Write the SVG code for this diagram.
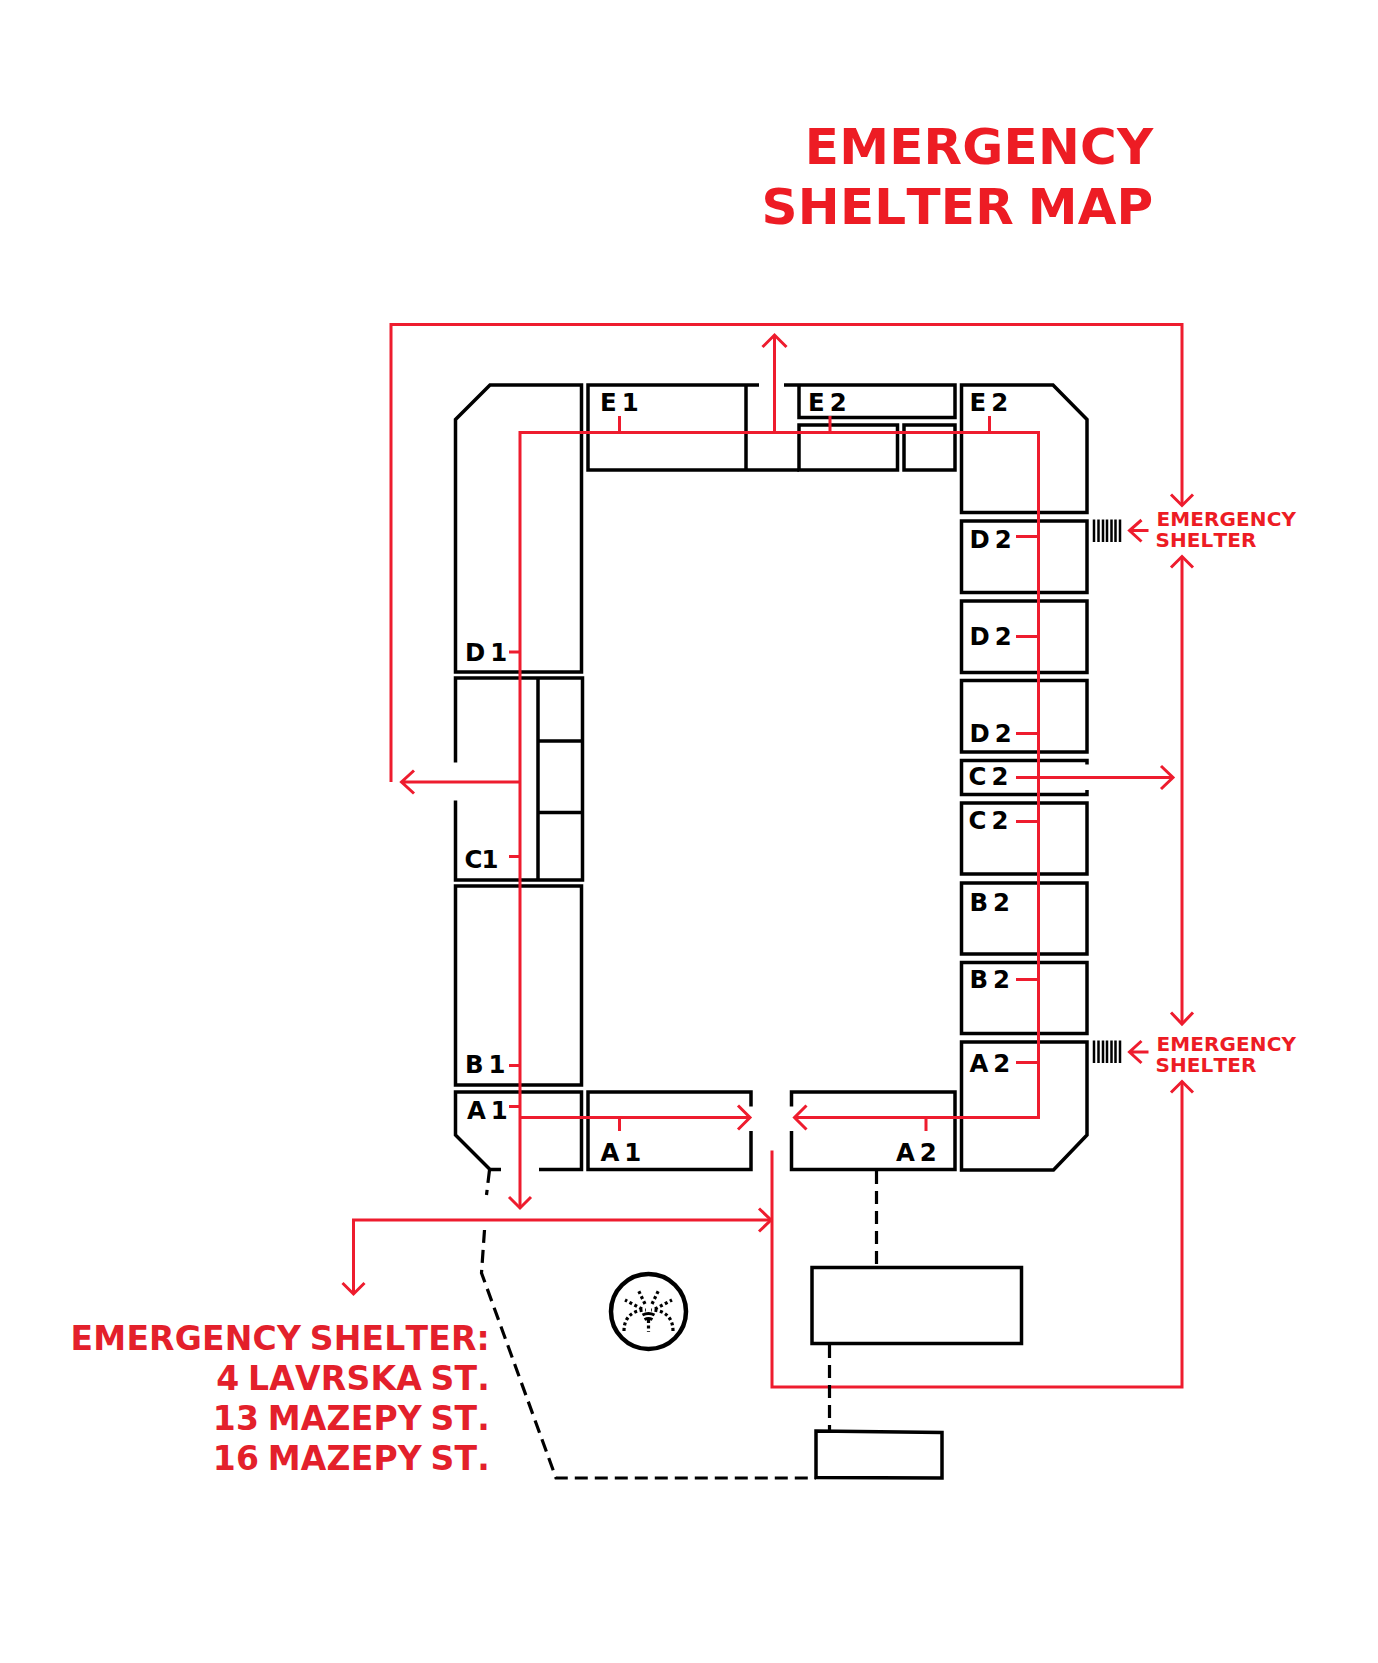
<svg xmlns="http://www.w3.org/2000/svg" width="1378" height="1663" viewBox="0 0 1378 1663">
<style>
.b{fill:none;stroke:#000;stroke-width:3.5}
.r{fill:none;stroke:#ee1c2e;stroke-width:3}
.d{fill:none;stroke:#000;stroke-width:3.2;stroke-dasharray:13 7}
.i{fill:none;stroke:#000;stroke-width:3.2;stroke-dasharray:3 2.6}
text{font-family:"DejaVu Sans",sans-serif;font-weight:700;font-kerning:none}
.l{font-size:24.4px;fill:#000;word-spacing:-3.5px}
.t{font-size:50px;fill:#ed1c24;text-anchor:end;word-spacing:-4px;letter-spacing:.25px}
.s{font-size:20px;fill:#ed1c24;letter-spacing:.1px}
.a{font-size:33px;fill:#e3202b;text-anchor:end;word-spacing:-3px;letter-spacing:.2px}
</style>
<rect width="1378" height="1663" fill="#fff"/>
<g id="title"><text class="t" x="1153.5" y="163.5">EMERGENCY</text><text class="t" x="1153.5" y="224">SHELTER MAP</text></g>
<g id="node-d1"><path class="b" d="M455.500 672V419.500L490 385H581.500V672Z"/><text class="l" x="465" y="660.500">D 1</text></g>
<g id="node-c1"><path class="b" d="M455.500 762.500V678H582.500V880H455.500V800.500M538 678V880M538 741H582.500M538 812.500H582.500"/><text class="l" x="464.500" y="867.500" style="letter-spacing:-1px">C1</text></g>
<g id="node-b1"><rect class="b" x="455.500" y="886" width="126" height="199"/><text class="l" x="465" y="1073">B 1</text></g>
<g id="node-a1-l"><path class="b" d="M501 1169.500H490L455.500 1135V1092H581.500V1169.500H539"/><text class="l" x="467" y="1118.500">A 1</text></g>
<g id="node-a1"><path class="b" d="M751 1106.500V1092H588V1169.500H751V1131"/><text class="l" x="600.500" y="1160.500">A 1</text></g>
<g id="node-a2"><path class="b" d="M791.500 1106.500V1092H955V1169.500H791.500V1131"/><text class="l" x="896" y="1160.500">A 2</text></g>
<g id="node-a2-r"><path class="b" d="M961.500 1042H1087V1135L1053.500 1170H961.500Z"/><text class="l" x="969.500" y="1071.500">A 2</text></g>
<g id="node-e1"><path class="b" d="M746 385H588V470H746V385M746 385H759M746 470H799"/><text class="l" x="600" y="410.500">E 1</text></g>
<g id="node-e2"><path class="b" d="M784 385H955V417.500H799V385M799 425H897.500V470H799ZM904 425H955V470H904Z"/><text class="l" x="808" y="410.500">E 2</text></g>
<g id="node-e2-r"><path class="b" d="M961.500 385H1053L1087 419.500V512.500H961.500Z"/><text class="l" x="969.500" y="410.500">E 2</text></g>
<g id="node-d2-1"><rect class="b" x="961.500" y="521" width="125.500" height="71.500"/><text class="l" x="969.500" y="547.500">D 2</text></g>
<g id="node-d2-2"><rect class="b" x="961.500" y="601" width="125.500" height="71.500"/><text class="l" x="969.500" y="644.500">D 2</text></g>
<g id="node-d2-3"><rect class="b" x="961.500" y="680.500" width="125.500" height="71.500"/><text class="l" x="969.500" y="741.500">D 2</text></g>
<g id="node-c2-1"><path class="b" d="M1087 764.500V760.500H961.500V794.500H1087V790"/><text class="l" x="968.500" y="785">C 2</text></g>
<g id="node-c2-2"><rect class="b" x="961.500" y="803" width="125.500" height="71"/><text class="l" x="968.500" y="828.500">C 2</text></g>
<g id="node-b2-1"><rect class="b" x="961.500" y="883" width="125.500" height="71"/><text class="l" x="969.500" y="911">B 2</text></g>
<g id="node-b2-2"><rect class="b" x="961.500" y="962.500" width="125.500" height="71"/><text class="l" x="969.500" y="988">B 2</text></g>
<g id="node-box1"><rect class="b" x="812" y="1267.500" width="209.500" height="76"/></g>
<g id="node-box2"><path class="b" d="M816 1431L942 1432.500V1478L816 1477.500Z"/></g>
<g id="hatch-1"><path class="b" style="stroke-width:2.500" d="M1094 519.500v22.500M1098.500 519.500v22.500M1103 519.500v22.500M1107 519.500v22.500M1111.500 519.500v22.500M1115.500 519.500v22.500M1120 519.500v22.500"/></g>
<g id="hatch-2"><path class="b" style="stroke-width:2.500" d="M1094 1040.500v22.500M1098.500 1040.500v22.500M1103 1040.500v22.500M1107 1040.500v22.500M1111.500 1040.500v22.500M1115.500 1040.500v22.500M1120 1040.500v22.500"/></g>
<g id="fountain">
<circle cx="648.500" cy="1311.500" r="37.500" fill="none" stroke="#000" stroke-width="4.500"/>
<path class="i" d="M645 1304L638 1289.500M652 1304L659 1289.500M642 1309L625 1300M655 1309L672 1300M624 1331C624 1316 634 1310 646 1310M673 1331C673 1316 663 1310 651 1310M648.500 1320V1332"/>
<path fill="none" stroke="#000" stroke-width="3" d="M642.500 1315Q648.500 1312 654.500 1315M644.500 1319.500Q648.500 1317.500 652.500 1319.500"/>
</g>
<g id="connectors">
<path class="r" d="M391 782V324.500H1182V505"/>
<path class="r" d="M1171 494.500L1182 505.500L1193 494.500"/>
<path class="r" d="M1182 556.500V1024"/>
<path class="r" d="M1171 567.500L1182 556.500L1193 567.500M1171 1012.500L1182 1024L1193 1012.500"/>
<path class="r" d="M1182 1081.500V1387H772V1150.500"/>
<path class="r" d="M1171 1092.500L1182 1081.500L1193 1092.500"/>
<path class="r" d="M353.500 1294V1220H771"/>
<path class="r" d="M759 1208.500L771 1220L759 1231.500M342.500 1283L353.500 1294L364.500 1283"/>
<path class="r" d="M520 1208V432.500H1038.500V1117.500H795"/>
<path class="r" d="M509 1197L520 1208L531 1197"/>
<path class="r" d="M520 1117.500H750"/>
<path class="r" d="M738 1105.500L750 1117.500L738 1129.500M806.500 1105.500L794.500 1117.500L806.500 1129.500"/>
<path class="r" d="M520 782H401M414 770.500L401.500 782L414 793.500"/>
<path class="r" d="M774.500 432.500V335M762.500 347L774.500 335L786.500 347"/>
<path class="r" d="M619.500 416V432.500M830 416V432.500M989.500 416V432.500M619.500 1117.500V1131M926 1117.500V1131"/>
<path class="r" d="M509 652H520M509 856.500H520M509 1065.500H520M509 1106.500H520"/>
<path class="r" d="M1016 536.500H1038.500M1016 636.500H1038.500M1016 733.500H1038.500M1016 821.500H1038.500M1016 979.500H1038.500M1016 1062.500H1038.500"/>
<path class="r" d="M1016 777.500H1173M1161 766L1173 777.500L1161 789"/>
<path class="r" d="M1148.500 530.500H1129.500M1141.500 520L1129.500 530.500L1141.500 541.500"/>
<path class="r" d="M1148.500 1052H1129.500M1141.500 1041L1129.500 1052L1141.500 1063"/>
<path class="d" d="M489.500 1170L486.500 1195"/>
<path class="d" d="M484.500 1230L481.500 1273L556 1478H816"/>
<path class="d" d="M876.500 1171V1267"/>
<path class="d" d="M829.500 1345V1431"/>
</g>
<g id="labels">
<text class="s" x="1156.500" y="526">EMERGENCY</text><text class="s" x="1155.500" y="547">SHELTER</text>
<text class="s" x="1156.500" y="1051">EMERGENCY</text><text class="s" x="1155.500" y="1072">SHELTER</text>
<text class="a" x="490" y="1350">EMERGENCY SHELTER:</text>
<text class="a" x="490" y="1390">4 LAVRSKA ST.</text>
<text class="a" x="490" y="1430">13 MAZEPY ST.</text>
<text class="a" x="490" y="1470">16 MAZEPY ST.</text>
</g>
</svg>
